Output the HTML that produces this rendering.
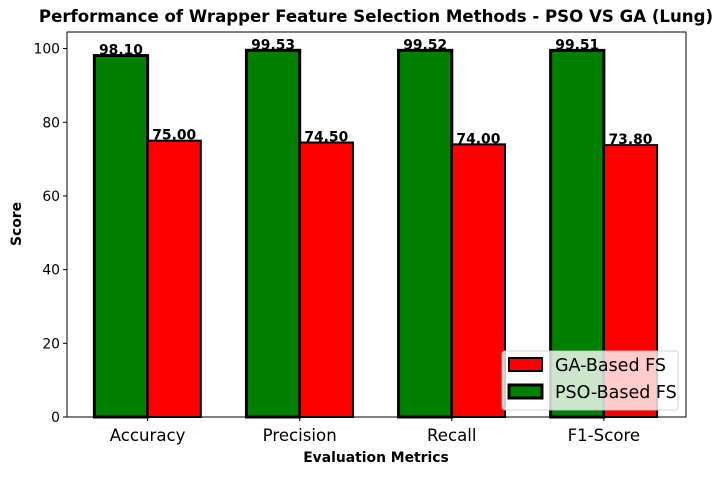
<!DOCTYPE html>
<html><head><meta charset="utf-8"><style>
body{margin:0;background:#fff;}
svg text{font-family:"DejaVu Sans","Liberation Sans",sans-serif;}
</style></head><body>
<svg id="chart" width="723" height="474" xmlns="http://www.w3.org/2000/svg">
<rect width="723" height="474" fill="#fff"/>
<text x="376" y="22" text-anchor="middle" font-size="16.6" font-weight="bold">Performance of Wrapper Feature Selection Methods - PSO VS GA (Lung)</text>
<g id="bars"></g>
<g id="axes"></g>
<text x="376" y="462" text-anchor="middle" font-size="13.9" font-weight="bold">Evaluation Metrics</text>
<text transform="translate(21,224) rotate(-90)" text-anchor="middle" font-size="13.9" font-weight="bold">Score</text>
<g>
<rect x="502" y="351" width="176" height="59" rx="3" fill="#fff" fill-opacity="0.8" stroke="#ccc" stroke-opacity="0.8"/>
<rect x="509" y="358" width="33" height="13" fill="red" stroke="#000" stroke-width="2"/>
<text x="555" y="371" font-size="17.5">GA-Based FS</text>
<rect x="509" y="385" width="33" height="13" fill="green" stroke="#000" stroke-width="3"/>
<text x="555" y="398" font-size="17.5">PSO-Based FS</text>
</g>
</svg>
<script>
const categories=["Accuracy","Precision","Recall","F1-Score"];
const psoValues=[98.10,99.53,99.52,99.51];
const gaValues=[75.00,74.50,74.00,73.80];
const yTicks=[0,20,40,60,80,100];
const NS="http://www.w3.org/2000/svg";
const L=67,R=686,T=32,B=417;
const xMin=-0.53,xMax=3.54,yMin=0,yMax=104.5;
const xs=v=>L+(v-xMin)/(xMax-xMin)*(R-L);
const ys=v=>B-(v-yMin)/(yMax-yMin)*(B-T);
const bw=0.35;
function el(tag,attrs,parent){const e=document.createElementNS(NS,tag);for(const k in attrs)e.setAttribute(k,attrs[k]);parent.appendChild(e);return e;}
const bars=document.getElementById('bars'),axes=document.getElementById('axes');
function bar(i,val,off,fill,sw,name){
  const x0=xs(i+off-bw/2),x1=xs(i+off+bw/2);
  const r=el('rect',{x:x0,y:ys(val),width:x1-x0,height:ys(0)-ys(val),fill:fill,stroke:'#000','stroke-width':sw},bars);
  
  
  const t=el('text',{x:(x0+x1)/2,y:ys(val)-1,'text-anchor':'middle','font-size':'13.9','font-weight':'bold'},bars);
  t.textContent=val.toFixed(2);
  
  
}
categories.forEach((c,i)=>{
  bar(i,psoValues[i],-bw/2,'green',3,'pso');
  bar(i,gaValues[i],bw/2,'red',2,'ga');
  el('line',{x1:xs(i),x2:xs(i),y1:B,y2:B+4,stroke:'#000'},axes);
  const t=el('text',{x:xs(i),y:B+24,'text-anchor':'middle','font-size':'16.6'},axes);
  t.textContent=c;
  
  
});
yTicks.forEach(v=>{
  el('line',{x1:L-4,x2:L,y1:ys(v),y2:ys(v),stroke:'#000'},axes);
  const t=el('text',{x:L-7,y:ys(v)+5,'text-anchor':'end','font-size':'13.9'},axes);
  t.textContent=v;
  
  
});
const f=el('rect',{x:L,y:T,width:R-L,height:B-T,fill:'none',stroke:'#000','stroke-width':1},axes);


</script>
</body></html>
